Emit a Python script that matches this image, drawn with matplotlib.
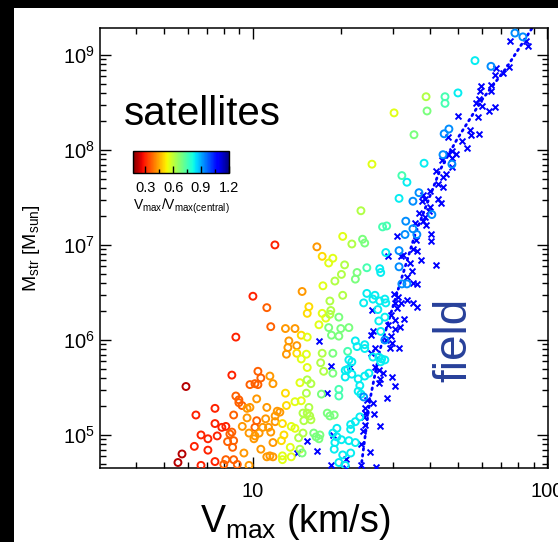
import numpy as np
import matplotlib
matplotlib.use('Agg')
import matplotlib.pyplot as plt
from matplotlib.colors import Normalize
from matplotlib.cm import ScalarMappable
from matplotlib.ticker import FixedLocator, NullFormatter, LogLocator
from matplotlib.patches import Rectangle

plt.rcParams['font.family'] = ['Liberation Sans', 'DejaVu Sans']
plt.rcParams['mathtext.fontset'] = 'custom'
plt.rcParams['mathtext.rm'] = 'Liberation Sans'
plt.rcParams['mathtext.it'] = 'Liberation Sans:italic'
plt.rcParams['mathtext.bf'] = 'Liberation Sans:bold'

# ---------------- data ----------------
# satellites: Vmax [km/s], log10 M_star [M_sun], Vmax/Vmax(central)
sat_vmax = [77.8, 82.8, 56.9, 64.5, 49.8, 38.8, 45.0, 45.0, 39.1, 30.2,
            35.3, 46.4, 44.7, 44.3, 47.5, 38.2, 25.4, 32.1, 33.4, 36.7,
            31.4, 35.0, 40.6, 23.3, 33.1, 35.0, 27.6, 28.5, 20.2, 23.6,
            24.0, 21.7, 32.9, 36.1, 28.3, 31.4, 18.7, 20.5, 27.0, 31.4,
            11.88, 16.5, 17.2, 18.1, 10.0, 14.7, 17.3, 19.0, 11.15, 15.5,
            15.3, 18.27, 17.2, 17.7, 18.27, 18.4, 19.6, 11.5, 12.9, 13.9,
            16.77, 14.6, 15.3, 13.25, 14.1, 13.15, 13.0, 14.1, 15.2, 14.6,
            18.1, 18.5, 19.6, 15.3, 17.2, 17.0, 18.7, 17.4, 18.7, 10.4,
            10.64, 11.42, 10.16, 10.4, 11.7, 14.45, 15.3, 15.75, 17.1, 12.9,
            10.3, 15.2, 13.9, 14.6, 13.0, 15.5, 15.3, 15.6, 14.8, 15.75,
            14.9, 17.9, 18.27, 19.6, 19.6, 11.15, 12.1, 12.35, 11.9, 11.9,
            12.6, 11.05, 10.3, 10.16, 10.8, 11.3, 11.5, 13.5, 13.9, 12.75,
            14.8, 16.1, 16.4, 16.9, 16.77, 12.5, 14.3, 11.7, 13.4, 14.45,
            14.7, 10.64, 10.08, 11.15, 11.42, 11.7, 12.6, 12.6, 13.5, 18.9,
            19.0, 19.3, 19.3, 8.75, 5.92, 8.48, 9.77, 8.75, 8.96, 8.96,
            9.18, 9.55, 9.77, 7.43, 6.40, 8.6, 9.55, 7.43, 7.84, 8.09,
            9.2, 8.48, 8.35, 6.66, 7.56, 7.03, 9.7, 10.16, 10.5, 8.6,
            8.2, 8.53, 6.32, 7.03, 5.74, 9.32, 5.56, 6.66, 7.43, 8.09,
            7.96, 8.6, 8.85, 9.7, 22.6, 22.3, 24.4, 27.2, 32.1, 33.4,
            20.0, 20.2, 24.4, 26.0, 25.6, 27.0, 28.1, 28.3, 23.8, 26.6,
            28.1, 26.8, 19.9, 21.2, 27.2, 28.1, 22.3, 22.6, 21.0, 24.0,
            24.0, 25.6, 26.8, 27.4, 27.2, 28.1, 21.2, 21.7, 21.0, 20.6,
            20.6, 21.7, 22.8, 24.0, 24.8, 23.1, 22.8, 23.3, 23.8, 23.1,
            18.9, 22.3, 21.5, 21.5, 18.7, 20.0, 21.2, 22.3, 20.2, 21.5,
            19.6, 20.6]
sat_log_mstar = [9.23, 9.19, 8.94, 8.88, 8.60, 8.56, 8.56, 8.49, 8.41, 8.39,
                 8.16, 8.22, 8.17, 7.95, 7.85, 7.86, 7.85, 7.73, 7.66, 7.55,
                 7.49, 7.46, 7.32, 7.36, 7.25, 7.17, 7.19, 7.20, 7.09, 7.06,
                 7.02, 7.01, 7.11, 7.11, 6.92, 6.94, 6.86, 6.79, 6.75, 6.77,
                 7.00, 6.98, 6.88, 6.81, 6.46, 6.51, 6.57, 6.62, 6.34, 6.35,
                 6.28, 6.41, 6.28, 6.23, 6.27, 6.31, 6.24, 6.14, 6.12, 6.12,
                 6.16, 6.05, 6.03, 5.99, 5.94, 5.92, 5.85, 5.86, 5.85, 5.80,
                 6.13, 6.05, 6.04, 5.71, 5.86, 5.76, 5.86, 5.67, 5.65, 5.67,
                 5.60, 5.62, 5.54, 5.53, 5.54, 5.55, 5.58, 5.54, 5.43, 5.44,
                 5.38, 5.44, 5.35, 5.36, 5.31, 5.29, 5.23, 5.20, 5.23, 5.16,
                 5.15, 5.23, 5.20, 5.48, 5.41, 5.29, 5.25, 5.24, 5.20, 5.14,
                 5.12, 5.17, 5.15, 5.08, 5.08, 5.08, 5.03, 5.09, 5.07, 5.00,
                 5.02, 5.02, 4.98, 5.00, 4.96, 4.94, 4.97, 4.92, 4.87, 4.85,
                 4.81, 4.85, 4.96, 4.77, 4.78, 4.77, 4.78, 4.74, 4.77, 4.85,
                 4.92, 5.07, 4.98, 6.03, 5.51, 5.63, 5.53, 5.41, 5.37, 5.34,
                 5.31, 5.28, 5.29, 5.28, 5.21, 5.21, 5.18, 5.12, 5.08, 5.09,
                 5.09, 5.03, 5.01, 5.00, 4.99, 4.96, 5.02, 4.99, 5.02, 4.94,
                 4.93, 4.87, 4.88, 4.84, 4.80, 4.81, 4.71, 4.68, 4.72, 4.74,
                 4.69, 4.74, 4.69, 4.68, 6.71, 6.64, 6.76, 6.71, 6.59, 6.59,
                 6.69, 6.47, 6.49, 6.47, 6.43, 6.41, 6.43, 6.39, 6.39, 6.32,
                 6.24, 6.20, 6.12, 6.13, 6.09, 6.00, 5.99, 5.93, 5.88, 5.95,
                 5.91, 5.82, 5.82, 5.80, 5.77, 5.79, 5.79, 5.77, 5.69, 5.68,
                 5.61, 5.64, 5.59, 5.62, 5.65, 5.52, 5.46, 5.43, 5.40, 5.19,
                 5.21, 5.14, 5.11, 5.06, 5.02, 4.95, 4.94, 4.92, 4.79, 4.81,
                 4.71, 4.68]
sat_ratio = [0.93, 0.93, 0.83, 0.93, 0.83, 0.62, 0.75, 0.75, 0.685, 0.56,
             0.685, 0.93, 0.93, 0.93, 0.93, 0.83, 0.56, 0.75, 0.83, 0.93,
             0.83, 0.93, 0.93, 0.62, 0.93, 0.93, 0.75, 0.75, 0.56, 0.685,
             0.685, 0.62, 0.93, 0.93, 0.83, 0.93, 0.56, 0.62, 0.83, 0.93,
             0.30, 0.43, 0.50, 0.56, 0.30, 0.43, 0.56, 0.62, 0.37, 0.50,
             0.50, 0.62, 0.56, 0.56, 0.62, 0.62, 0.685, 0.37, 0.43, 0.43,
             0.56, 0.50, 0.56, 0.43, 0.43, 0.43, 0.43, 0.50, 0.56, 0.56,
             0.685, 0.685, 0.685, 0.56, 0.62, 0.62, 0.685, 0.62, 0.685, 0.37,
             0.37, 0.43, 0.37, 0.37, 0.43, 0.56, 0.62, 0.62, 0.685, 0.50,
             0.43, 0.62, 0.56, 0.56, 0.50, 0.62, 0.62, 0.62, 0.62, 0.62,
             0.62, 0.685, 0.685, 0.75, 0.75, 0.43, 0.43, 0.43, 0.43, 0.43,
             0.50, 0.43, 0.37, 0.37, 0.43, 0.43, 0.43, 0.56, 0.56, 0.50,
             0.62, 0.685, 0.685, 0.685, 0.685, 0.50, 0.62, 0.43, 0.56, 0.62,
             0.685, 0.43, 0.43, 0.43, 0.43, 0.43, 0.56, 0.56, 0.56, 0.83,
             0.83, 0.83, 0.83, 0.30, 0.22, 0.30, 0.37, 0.37, 0.37, 0.37,
             0.37, 0.43, 0.43, 0.30, 0.30, 0.37, 0.43, 0.30, 0.30, 0.30,
             0.43, 0.37, 0.37, 0.30, 0.30, 0.30, 0.43, 0.43, 0.43, 0.37,
             0.37, 0.37, 0.30, 0.30, 0.22, 0.43, 0.22, 0.30, 0.30, 0.37,
             0.37, 0.37, 0.37, 0.43, 0.685, 0.685, 0.75, 0.83, 0.93, 0.93,
             0.62, 0.62, 0.83, 0.83, 0.83, 0.83, 0.83, 0.83, 0.83, 0.83,
             0.83, 0.83, 0.685, 0.685, 0.83, 0.93, 0.83, 0.83, 0.75, 0.83,
             0.83, 0.83, 0.83, 0.83, 0.83, 0.83, 0.83, 0.83, 0.83, 0.83,
             0.83, 0.83, 0.83, 0.83, 0.83, 0.83, 0.83, 0.83, 0.93, 0.83,
             0.685, 0.83, 0.83, 0.83, 0.83, 0.83, 0.83, 0.83, 0.83, 0.83,
             0.83, 0.83]

# field haloes: Vmax [km/s], log10 M_star [M_sun]
field_vmax = [74.8, 84.8, 86.2, 67.1, 66.6, 70.9, 74.2, 59.7, 59.2, 64.5,
              64.5, 58.7, 57.3, 60.2, 66.6, 63.5, 49.8, 58.2, 54.7, 55.1,
              58.7, 46.1, 51.4, 53.5, 47.5, 46.1, 49.1, 43.9, 47.5, 47.5,
              41.9, 45.5, 44.4, 42.6, 44.3, 43.6, 37.9, 40.0, 38.5, 37.6,
              42.6, 40.0, 39.7, 36.7, 38.5, 37.9, 38.8, 35.6, 30.9, 35.8,
              40.3, 40.3, 35.0, 36.1, 32.4, 31.9, 28.9, 37.3, 34.2, 41.9,
              34.7, 33.4, 35.0, 36.1, 30.2, 31.1, 30.4, 31.9, 30.9, 33.4,
              35.0, 36.1, 25.4, 29.4, 30.4, 32.6, 28.9, 31.6, 30.4, 29.4,
              28.3, 25.6, 25.2, 29.7, 31.4, 29.2, 26.0, 25.2, 21.4, 26.0,
              26.8, 27.6, 29.7, 27.0, 26.8, 30.4, 24.4, 25.6, 28.5, 24.0,
              24.0, 23.8, 25.8, 27.0, 24.0, 23.6, 23.3, 25.0, 20.8, 23.3,
              26.2, 16.77, 18.4, 17.9, 15.3, 16.5, 14.1, 18.4, 18.7, 20.8]
field_log_mstar = [9.15, 9.15, 9.09, 8.86, 8.79, 8.81, 8.87, 8.67, 8.62, 8.68,
                   8.62, 8.54, 8.49, 8.46, 8.45, 8.41, 8.36, 8.35, 8.21, 8.16,
                   8.17, 8.14, 8.09, 8.02, 7.99, 7.96, 7.96, 7.89, 7.91, 7.82,
                   7.78, 7.75, 7.72, 7.64, 7.61, 7.44, 7.53, 7.57, 7.48, 7.46,
                   7.48, 7.40, 7.36, 7.34, 7.29, 7.25, 7.21, 7.23, 7.09, 7.05,
                   7.11, 7.04, 6.96, 6.94, 6.89, 6.88, 6.88, 6.84, 6.81, 6.79,
                   6.73, 6.66, 6.60, 6.59, 6.48, 6.45, 6.39, 6.39, 6.34, 6.42,
                   6.39, 6.35, 6.31, 6.26, 6.21, 6.22, 6.16, 6.14, 6.11, 6.04,
                   6.00, 6.09, 6.05, 5.97, 5.92, 5.92, 5.92, 5.86, 5.72, 5.72,
                   5.68, 5.65, 5.61, 5.59, 5.55, 5.52, 5.37, 5.34, 5.39, 5.28,
                   5.23, 5.19, 5.22, 5.09, 5.11, 5.04, 4.91, 4.82, 4.75, 4.68,
                   4.66, 5.99, 5.73, 5.44, 4.94, 4.83, 4.81, 4.68, 5.00, 4.65]

# field relation (dotted curve)
fit_vmax = [23.3, 25.0, 27.0, 30.4, 35.6, 43.3, 49.4, 60.2, 73.0, 88.9, 100.8]
fit_log_mstar = [4.65, 5.37, 5.89, 6.42, 7.11, 7.79, 8.11, 8.53, 8.87, 9.28, 9.36]

# axis ranges / colour scale
x_range = (3.02, 100.8)
y_range = (4.49e4, 1.92e9)
ratio_range = (0.17, 1.2)
cbar_ticks = [0.3, 0.6, 0.9, 1.2]
cbar_minor = [0.45, 0.75, 1.05]

# ---------------- figure ----------------
W, H = 558, 542
fig = plt.figure(figsize=(W / 100, H / 100), dpi=100)
fig.patch.set_facecolor('white')

ax = fig.add_axes([100 / W, 1 - 468 / H, 448 / W, 440 / H])
ax.set_xscale('log')
ax.set_yscale('log')
ax.set_xlim(*x_range)
ax.set_ylim(*y_range)

cmap = plt.get_cmap('jet_r')
norm = Normalize(*ratio_range)
sat_colors = cmap(norm(np.array(sat_ratio)))

ax.plot(fit_vmax, 10 ** np.array(fit_log_mstar), color='blue', lw=2.0,
        ls=(0, (0.6, 1.6)), dash_capstyle='round', zorder=2)
ax.scatter(field_vmax, 10 ** np.array(field_log_mstar), marker='x', s=18,
           c='blue', linewidths=1.4, zorder=3)
ax.scatter(sat_vmax, 10 ** np.array(sat_log_mstar), marker='o', s=25,
           facecolors='none', edgecolors=sat_colors, linewidths=1.4, zorder=4)

for sp in ax.spines.values():
    sp.set_linewidth(1.1)
ax.tick_params(which='both', direction='in', top=True, right=True, width=1.0,
               colors='black')
ax.tick_params(which='major', length=8, labelsize=14.5)
ax.tick_params(which='minor', length=4)
ax.tick_params(axis='x', which='major', pad=10)
ax.tick_params(axis='y', which='major', pad=3.5)
ax.xaxis.set_major_locator(FixedLocator([10, 100]))
ax.set_xticklabels(['10', '100'])
ax.xaxis.set_minor_locator(LogLocator(base=10, subs=np.arange(2, 10)))
ax.xaxis.set_minor_formatter(NullFormatter())
ax.yaxis.set_major_locator(LogLocator(base=10, numticks=10))
ax.yaxis.set_minor_locator(LogLocator(base=10, subs=np.arange(2, 10), numticks=20))
ax.yaxis.set_minor_formatter(NullFormatter())

# labels
fig.text(200 / W, 10 / H, r'V$_{\mathrm{max}}$ (km/s)', fontsize=27,
         ha='left', va='baseline')
fig.text(32 / W, 1 - 248 / H, r'M$_{\mathrm{str}}$ [M$_{\mathrm{sun}}$]',
         fontsize=14, rotation=90, ha='center', va='center')
fig.text(124 / W, 1 - 125 / H, 'satellites', fontsize=29, ha='left',
         va='baseline')
fig.text(454 / W, 1 - 340 / H, 'field', fontsize=33, rotation=90,
         color='#27409a', ha='center', va='center')

# colour bar
cax = fig.add_axes([133 / W, 1 - 173 / H, 96 / W, 22 / H])
cb = fig.colorbar(ScalarMappable(norm=norm, cmap=cmap), cax=cax,
                  orientation='horizontal')
cb.set_ticks(cbar_ticks)
cb.set_ticklabels(['0.3', '0.6', '0.9', '1.2'])
cax.xaxis.set_minor_locator(FixedLocator(cbar_minor))
cax.tick_params(which='both', direction='in', colors='black', width=1.0)
cax.tick_params(which='major', length=5, labelsize=10.5, pad=6)
cax.tick_params(which='minor', length=3)
cb.outline.set_linewidth(1.0)
fig.text(133 / W, 1 - 206 / H, r'V$_{\mathrm{max}}$/V$_{\mathrm{max(central)}}$',
         fontsize=10, ha='left', va='center')

# black frame strips of the original scan
fig.patches.append(Rectangle((0, 1 - 8 / H), 1, 8 / H, transform=fig.transFigure,
                             facecolor='black', edgecolor='none', zorder=10))
fig.patches.append(Rectangle((0, 0), 14 / W, 1, transform=fig.transFigure,
                             facecolor='black', edgecolor='none', zorder=10))

fig.savefig('out.png', dpi=100)
